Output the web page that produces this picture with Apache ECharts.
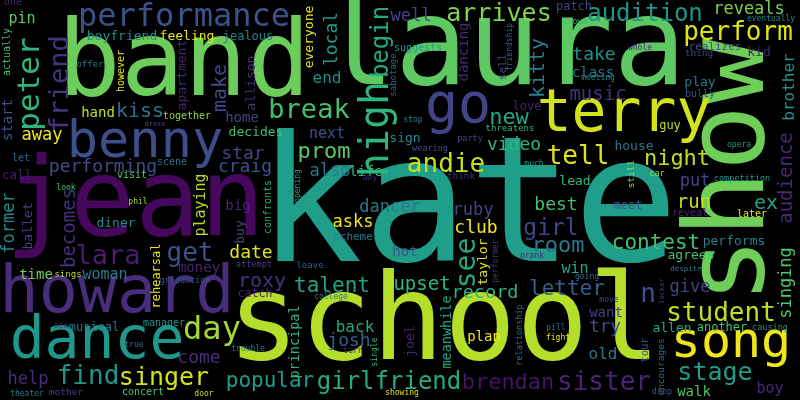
<!DOCTYPE html>
<html><head><meta charset="utf-8">
<script src="https://cdn.jsdelivr.net/npm/echarts@6/dist/echarts.min.js"></script>
<style>html,body{margin:0;padding:0;background:#000;}#c{width:800px;height:400px;}</style>
</head><body><div id="c"></div>
<script>
// Word cloud: words and their weights (font size in px)
const words = [
 'kate','school','laura','band','jean','show','howard','dance','song','terry',
 'benny','go','performance','pin','one','boyfriend','feeling','jealous','actually','peter',
 'friend','apartment','however','offer','start','hand','kiss','together','dress','make',
 'allison','everyone','local','begin','high','end','break','home','decides','next',
 'well','sabotage','suggests','arrives','dancing','kitty','sell','friendship','take','class',
 'meeting','music','love','new','stop','threatens','patch','crowd','audition','reveals',
 'eventually','perform','realizes','whole','thing','kid','brother','play','bully','guy',
 'away','let','performing','scene','call','visit','look','former','ballet','becomes',
 'phil','diner','lara','rehearsal','get','playing','star','prom','craig','also',
 'life','amy','opening','confronts','big','buy','dancer','asks','scheme','date',
 'attempt','leave','sign','party','wearing','video','tell','andie','much','think',
 'lead','best','ruby','club','girl','room','see','taylor','performer','prank',
 'hot','win','house','opera','night','still','car','competition','put','audience',
 'ex','run','meet','reveal','later','contest','performs','agrees','singing','despite',
 'move','n','give','locker','student','allen','another','causing','encourages','tour',
 'stage','drop','walk','boy','sister','brendan','girlfriend','popular','showing','door',
 'josh','back','trouble','turn','single','principal','catch','college','roxy','talent',
 'upset','record','letter','meanwhile','relationship','pill','fight','plan','joel','want',
 'try','old','going','time','sings','woman','money','graduation','sex','musical',
 'manager','day','come','true','help','find','singer','theater','mother','concert'
];
const weights = [
 175,120,121,105,108,110,65,58,50,58,
 52,55,32,15,10,13,13,12,10,31,
 27,13,10,9,14,14,20,10,7,20,
 13,13,18,24,40,16,27,14,13,15,
 17,9,10,25,14,20,11,8,18,14,
 8,19,12,22,8,9,12,8,24,17,
 8,26,11,8,9.5,13,16,13,10,12,
 17,10,18,10,12.5,10,8,17,13,19,
 8,13,27,12,26,15,18,22,18,17,
 14,8,8,10,14,13,17,17,11,18,
 8.5,9,13,8.5,8.5,18,26,26,8,9.5,
 13,18,17,18,23,22,28,13,8,8,
 14,15,13,8,22,9.5,8.5,8.5,17,19,
 20,19,12,10,10,21,13,13,17,7.5,
 8,26,17,7,26,13,12,8.5,9.5,10.5,
 25,8.5,14,15,26,22,24,21,8,8,
 18,16,8,8.5,8,13.5,11.5,8,20,21,
 19,18.5,21,13.5,8.5,8,8,14,13,14,
 17.5,16,8,14,9,15,14,8.5,8,12,
 10,32,18,8,17,26,25,8,9.5,10
];
// Cloud layout: x/y of each word (horizontal: centre x, baseline y; vertical: baseline x, centre y)
const layoutX = [
 468,444,504,184,135,773,117,97,731,624,
 145,458,184,22,13,122,187,248,11,42,
 70,187,125,90,13,98,140,187,155,228,
 256,314,339,390,392,327,309,242,256,327,
 411,397,418,499,469,546,507,513,594,593,
 598,598,527,509,413,510,574,575,645,749,
 771,738,715,640,699,759,795,700,700,670,
 42,21,103,172,17,132,66,16,33,77,
 138,116,108,161,190,206,243,324,245,330,
 366,370,301,272,238,245,390,353,353,251,
 254,310,405,470,430,514,578,446,534,461,
 575,556,473,476,551,558,478,488,499,532,
 405,575,634,739,677,635,657,742,695,794,
 766,694,628,690,752,656,734,691,793,686,
 609,648,690,665,721,672,722,770,665,649,
 715,662,694,770,604,508,389,270,402,204,
 349,355,248,353,378,300,255,331,262,332,
 422,485,567,452,523,556,558,484,415,606,
 605,603,587,36,68,105,199,185,61,94,
 164,212,199,134,28,88,164,27,66,143
];
const layoutY = [
 277,370,95,104,245,171,318,363,362,136,
 162,127,29,24,6,41,41,41,52,84,
 84,75,71,68,120,118,119,120,127,88,
 83,37,39,42,129,84,120,123,137,139,
 23,75,52,23,52,68,67,47,62,78,
 81,102,111,126,123,132,11,25,23,16,
 22,42,51,51,57,57,87,87,98,130,
 142,162,174,166,180,179,191,223,226,228,
 205,228,266,276,263,205,161,160,174,178,
 177,181,186,207,211,232,214,229,241,260,
 268,269,143,142,152,152,166,174,167,180,
 186,212,217,235,237,254,263,262,261,259,
 257,274,151,148,167,174,177,182,188,178,
 211,210,210,217,218,251,246,260,283,272,
 303,304,294,291,323,333,332,331,367,350,
 382,395,397,394,392,391,391,389,396,397,
 348,333,352,354,352,342,298,300,289,294,
 292,300,297,332,335,331,341,342,341,318,
 334,360,280,280,278,280,273,284,329,332,
 327,342,365,348,386,386,387,397,396,396
];
const vertical = [
 0,0,0,0,0,1,0,0,0,0,
 0,0,0,0,0,0,0,0,1,1,
 1,1,1,0,1,0,0,0,0,1,
 1,1,1,1,1,0,0,0,0,0,
 0,1,0,0,1,1,1,1,0,0,
 0,0,0,0,0,0,0,0,0,0,
 0,0,0,0,0,0,1,0,0,0,
 0,0,0,0,0,0,0,1,1,1,
 0,0,0,1,0,1,0,0,0,0,
 0,0,1,1,0,1,0,0,0,0,
 0,0,0,0,0,0,0,0,0,0,
 0,0,0,0,0,0,1,1,1,0,
 0,0,0,0,0,1,0,0,0,1,
 0,0,0,0,0,0,0,0,1,0,
 0,0,0,1,0,0,0,0,1,1,
 0,0,0,0,0,0,0,0,0,0,
 0,0,0,0,1,1,0,0,0,0,
 0,0,0,1,1,0,0,0,1,0,
 0,0,0,0,0,0,0,0,0,0,
 0,0,0,0,0,0,0,0,0,0
];
const colors = [
 '#1f9e89','#b5de2b','#5ec962','#6ccd5a','#46085c','#6ece58','#472d7b','#1f988b','#efe51c','#d2e21b',
 '#3d4e8a','#414487','#3b528b','#5ec962','#482475','#21918c','#e7e419','#25848e','#44bf70','#2fb47c',
 '#46337e','#482677','#dfe318','#2a788e','#3b528b','#c2df23','#2d708e','#8fd744','#3e4a89','#3f4a89',
 '#46337e','#e5e419','#1e9c89','#22a884','#2fb47c','#21918c','#44bf70','#414487','#44bf70','#3b528b',
 '#414487','#355f8d','#1f9e89','#7fd34e','#472d7b','#287c8e','#414487','#31668e','#20928c','#2a788e',
 '#25848e','#46327e','#482173','#22a884','#26828e','#2fb47c','#414487','#35b779','#1f968b','#7ad151',
 '#25848e','#dde318','#3b528b','#482475','#414487','#482677','#21918c','#2a788e','#3b528b','#bddf26',
 '#f1e51d','#2f6c8e','#3d4e8a','#2c728e','#481d6f','#5ec962','#44bf70','#23898e','#414487','#46307e',
 '#a0da39','#238a8d','#481c6e','#e5e419','#3b528b','#b8de29','#414487','#5ec962','#3b528b','#2a788e',
 '#2fb47c','#482475','#20a386','#21a685','#482677','#414487','#2a788e','#f1e51d','#2a788e','#e2e418',
 '#414487','#355f8d','#23898e','#414487','#3b528b','#2fb47c','#dde318','#c2df23','#1f968b','#472c7a',
 '#35b779','#44bf70','#414487','#f1e51d','#404688','#2a788e','#23a983','#dfe318','#46337e','#472c7a',
 '#3b528b','#22a884','#2a788e','#1f968b','#c2df23','#9bd93c','#9bd93c','#1f968b','#414487','#482878',
 '#20a386','#bade28','#3b528b','#482475','#dfe318','#44bf70','#26828e','#44bf70','#4ec36b','#2a788e',
 '#414487','#3b528b','#414487','#433e85','#c2df23','#21a685','#44bf70','#21918c','#2f6c8e','#3b528b',
 '#1f9e89','#3b528b','#52c569','#482878','#482475','#471365','#25ab82','#1f9e89','#dfe318','#bddf26',
 '#355f8d','#23a983','#287c8e','#482173','#2fb47c','#2fb47c','#482475','#2a788e','#46337e','#20a386',
 '#2fb47c','#2fb47c','#355f8d','#21a685','#2f6c8e','#2a788e','#f1e51d','#f1e51d','#482677','#414487',
 '#3b528b','#2a788e','#2f6c8e','#7ad151','#bddf26','#2a788e','#482475','#3b528b','#481f70','#2a788e',
 '#1f968b','#a0da39','#46307e','#2c728e','#472d7b','#1f968b','#d2e21b','#2a788e','#414487','#4ec36b'
];

const MID = 0.35; // distance of the em-box middle above the baseline, in em
const FONT = '"DejaVu Sans Mono", "Liberation Mono", monospace';

const data = words.map(function (w, i) {
  const fs = weights[i];
  const v = vertical[i] === 1;
  const x = v ? layoutX[i] - MID * fs : layoutX[i];
  const y = v ? layoutY[i] : layoutY[i] - MID * fs;
  return {
    value: [x, y],
    label: {
      show: true,
      formatter: w,
      fontSize: fs,
      color: colors[i],
      rotate: v ? 90 : 0
    }
  };
});

const chart = echarts.init(document.getElementById('c'), null, {renderer: 'canvas'});
chart.setOption({
  backgroundColor: '#000000',
  animation: false,
  grid: {left: 0, right: 0, top: 0, bottom: 0, containLabel: false},
  xAxis: {type: 'value', min: 0, max: 800, show: false},
  yAxis: {type: 'value', min: 0, max: 400, inverse: true, show: false},
  series: [{
    type: 'scatter',
    silent: true,
    clip: false,
    symbol: 'circle',
    symbolSize: 1,
    itemStyle: {color: 'rgba(0,0,0,0)'},
    label: {
      show: true,
      position: 'inside',
      align: 'center',
      verticalAlign: 'middle',
      fontFamily: FONT,
      fontWeight: 'normal',
      opacity: 1
    },
    labelLayout: {hideOverlap: false},
    data: data
  }]
});
</script>
</body></html>
